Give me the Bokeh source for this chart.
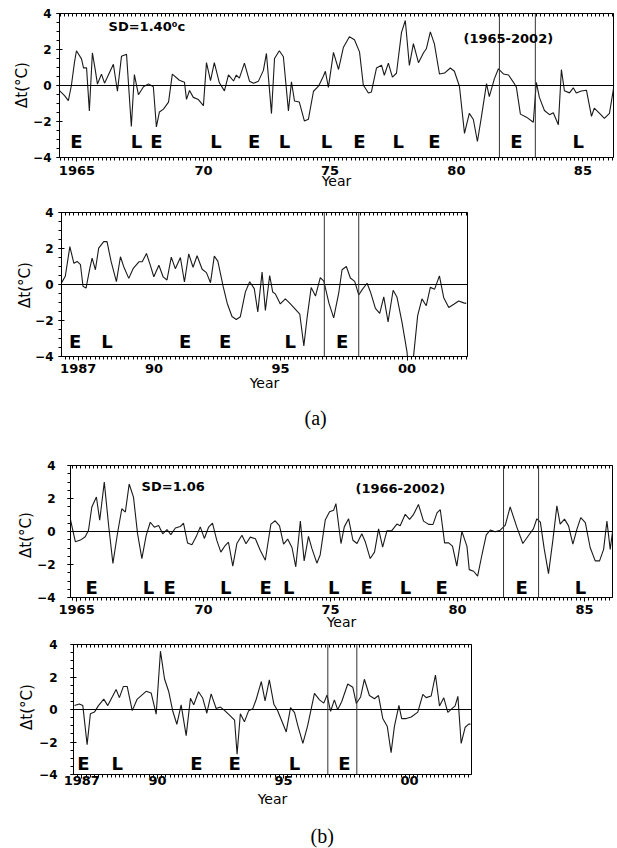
import numpy as np
from bokeh.plotting import figure
from bokeh.models import FixedTicker, LinearAxis, Span, Label, Range1d, ColumnDataSource, Title, Div
from bokeh.layouts import column, row
from bokeh.embed import file_html
from bokeh.resources import INLINE
from bokeh.core.properties import value

# ---------------- data: panel (a) 1965-1986 ----------------
a1_year = [1964.31, 1964.51, 1964.66, 1964.78, 1964.90, 1964.98, 1965.18, 1965.26, 1965.38, 1965.49,
           1965.61, 1965.73, 1965.81, 1965.97, 1966.09, 1966.44, 1966.60, 1966.76, 1966.96, 1967.15,
           1967.27, 1967.43, 1967.63, 1967.83, 1968.02, 1968.14, 1968.26, 1968.42, 1968.62, 1968.77,
           1969.05, 1969.25, 1969.33, 1969.45, 1969.60, 1969.80, 1970.00, 1970.12, 1970.28, 1970.43,
           1970.63, 1970.83, 1970.99, 1971.19, 1971.30, 1971.42, 1971.62, 1971.82, 1971.98, 1972.17,
           1972.37, 1972.49, 1972.69, 1972.81, 1973.00, 1973.16, 1973.36, 1973.48, 1973.60, 1973.79,
           1973.99, 1974.15, 1974.35, 1974.55, 1974.74, 1974.82, 1974.94, 1975.14, 1975.34, 1975.53,
           1975.77, 1975.97, 1976.17, 1976.32, 1976.52, 1976.64, 1976.84, 1977.04, 1977.15, 1977.31,
           1977.47, 1977.63, 1977.83, 1977.98, 1978.14, 1978.30, 1978.50, 1978.70, 1978.81, 1978.97,
           1979.13, 1979.33, 1979.53, 1979.76, 1979.92, 1980.12, 1980.32, 1980.51, 1980.67, 1980.83,
           1980.99, 1981.19, 1981.30, 1981.50, 1981.66, 1981.86, 1982.06, 1982.25, 1982.37, 1982.53,
           1982.77, 1983.04, 1983.16, 1983.28, 1983.48, 1983.68, 1983.83, 1984.03, 1984.15, 1984.27,
           1984.47, 1984.62, 1984.74, 1984.94, 1985.14, 1985.34, 1985.45, 1985.65, 1985.85, 1986.05,
           1986.21]
a1_dt = [-0.28, -0.56, -0.84, 0.00, 1.27, 1.93, 1.48, 0.98, 0.98, -1.41,
         1.81, 0.81, 0.08, 0.63, 0.13, 1.18, -0.32, 1.62, 1.73, -2.28,
         0.61, -0.51, -0.07, 0.09, -0.07, -2.30, -1.47, -1.31, -0.92, 0.63,
         0.29, 0.18, -0.77, -0.28, -0.66, -0.78, -1.12, 1.27, 0.27, 1.27,
         0.15, -0.30, 0.59, 0.25, 0.58, 0.41, 1.24, 0.24, 0.12, 0.23,
         0.84, 1.78, -1.56, 1.50, 1.93, 1.60, -1.41, 0.20, -0.86, -0.92,
         -1.97, -1.87, -0.32, -0.04, 0.51, 0.79, -0.10, 1.84, 0.89, 2.11,
         2.71, 2.54, 1.87, 0.03, -0.42, -0.36, 0.97, 1.13, 0.57, 1.24,
         0.46, 0.68, 2.95, 3.61, 1.11, 2.33, 1.27, 1.82, 2.04, 2.98,
         2.31, 0.64, 0.69, 0.97, 0.79, -0.04, -2.66, -1.55, -1.89, -3.11,
         -1.73, 0.10, -0.62, 0.37, 0.93, 0.64, 0.58, 0.19, -0.09, -1.59,
         -1.76, -2.04, 0.17, -0.66, -1.39, -1.62, -1.51, -2.18, 0.88, -0.29,
         -0.41, -0.13, -0.42, -0.31, -0.26, -1.71, -1.26, -1.54, -1.83, -1.55,
         -0.17]

# ---------------- data: panel (a) 1987-2002 ----------------
a2_year = [1986.34, 1986.49, 1986.67, 1986.83, 1986.96, 1987.09, 1987.19, 1987.31, 1987.46, 1987.55,
           1987.68, 1987.81, 1988.01, 1988.14, 1988.30, 1988.51, 1988.67, 1988.80, 1989.00, 1989.17,
           1989.40, 1989.53, 1989.70, 1989.85, 1989.99, 1990.19, 1990.36, 1990.51, 1990.68, 1990.84,
           1991.04, 1991.20, 1991.37, 1991.54, 1991.70, 1991.90, 1992.07, 1992.23, 1992.38, 1992.52,
           1992.73, 1992.89, 1993.08, 1993.25, 1993.41, 1993.61, 1993.78, 1993.96, 1994.10, 1994.27,
           1994.40, 1994.57, 1994.69, 1994.79, 1994.99, 1995.19, 1995.39, 1995.58, 1995.76, 1995.92,
           1996.05, 1996.21, 1996.38, 1996.57, 1996.71, 1996.91, 1997.10, 1997.30, 1997.43, 1997.60,
           1997.76, 1997.93, 1998.09, 1998.22, 1998.42, 1998.55, 1998.75, 1998.92, 1999.08, 1999.25,
           1999.45, 1999.60, 1999.80, 2000.00, 2000.13, 2000.26, 2000.42, 2000.59, 2000.76, 2000.92,
           2001.09, 2001.28, 2001.45, 2001.65, 2001.85, 2002.04, 2002.24, 2002.34]
a2_dt = [0.09, 0.46, 2.10, 1.18, 1.28, 1.10, -0.10, -0.20, 0.90, 1.46,
         0.82, 2.02, 2.38, 2.38, 1.28, 0.16, 1.54, 0.99, 0.34, 0.88,
         1.26, 1.26, 1.72, 1.08, 0.43, 1.07, 0.42, 0.25, 1.52, 0.88,
         1.50, 0.14, 1.70, 0.96, 1.60, 0.85, 0.66, 0.10, 1.58, 1.30,
         -0.11, -1.04, -1.78, -1.94, -1.79, -0.41, 0.15, -0.23, -1.52, 0.69,
         -1.44, 0.50, -0.42, -0.52, -1.08, -0.80, -1.08, -1.37, -1.65, -3.41,
         -1.83, -0.17, -0.64, 0.38, 0.19, -1.02, -1.85, -0.47, 0.82, 1.00,
         0.36, 0.17, -0.58, -0.30, 0.07, -0.40, -1.33, -1.61, -0.69, -2.08,
         -0.32, -0.69, -2.09, -3.76, -5.98, -3.94, -1.73, -0.80, -1.18, -0.16,
         -0.26, 0.48, -0.73, -1.28, -1.10, -0.92, -1.02, -1.05]

# ---------------- data: panel (b) 1965-1986 ----------------
b1_year = [1964.75, 1964.95, 1965.15, 1965.34, 1965.47, 1965.60, 1965.78, 1965.91, 1966.09, 1966.26,
           1966.43, 1966.61, 1966.78, 1966.92, 1967.07, 1967.24, 1967.40, 1967.57, 1967.74, 1967.90,
           1968.06, 1968.23, 1968.39, 1968.56, 1968.71, 1968.89, 1969.08, 1969.21, 1969.37, 1969.54,
           1969.71, 1969.87, 1970.03, 1970.20, 1970.35, 1970.52, 1970.68, 1970.85, 1970.98, 1971.15,
           1971.31, 1971.51, 1971.67, 1971.84, 1972.04, 1972.23, 1972.43, 1972.65, 1972.82, 1972.99,
           1973.15, 1973.31, 1973.48, 1973.63, 1973.81, 1973.96, 1974.13, 1974.26, 1974.46, 1974.59,
           1974.79, 1974.96, 1975.12, 1975.21, 1975.41, 1975.54, 1975.71, 1975.88, 1976.04, 1976.23,
           1976.37, 1976.56, 1976.73, 1976.89, 1977.05, 1977.22, 1977.41, 1977.61, 1977.74, 1977.94,
           1978.11, 1978.27, 1978.46, 1978.66, 1978.86, 1979.03, 1979.19, 1979.32, 1979.49, 1979.65,
           1979.80, 1979.97, 1980.17, 1980.37, 1980.46, 1980.63, 1980.79, 1980.96, 1981.13, 1981.29,
           1981.48, 1981.68, 1981.88, 1982.07, 1982.33, 1982.57, 1982.80, 1982.99, 1983.12, 1983.26,
           1983.41, 1983.58, 1983.75, 1983.91, 1984.04, 1984.21, 1984.37, 1984.54, 1984.70, 1984.85,
           1985.03, 1985.22, 1985.42, 1985.59, 1985.75, 1985.88, 1986.01, 1986.14]
b1_dt = [0.78, -0.62, -0.52, -0.32, 0.08, 1.49, 2.09, 0.68, 2.99, 0.38,
         -1.93, -0.12, 1.38, 1.18, 2.88, 2.08, -0.13, -1.64, -0.24, 0.56,
         0.26, 0.36, -0.14, 0.12, -0.19, 0.21, 0.30, 0.50, -0.70, -0.81,
         -0.31, 0.28, -0.42, 0.27, 0.51, -0.54, -1.25, -0.85, -0.65, -2.10,
         -0.73, -0.23, -0.74, -0.34, -0.44, -1.14, -1.74, 0.45, 0.65, 0.34,
         -0.76, -0.46, -0.97, -2.14, 0.63, -1.78, -0.30, -1.01, -1.92, -1.42,
         0.69, 1.19, 1.29, 1.69, -0.73, 0.28, 0.77, -0.53, -0.73, -0.14,
         -0.64, -1.64, -1.25, 0.16, -0.95, 0.05, 0.05, 0.45, 0.35, 1.04,
         0.74, 1.04, 1.64, 0.63, 0.43, 0.42, 1.13, 1.32, -0.69, -0.69,
         -0.89, -2.10, 0.01, -0.90, -2.31, -2.41, -2.71, -1.41, -0.21, 0.09,
         -0.01, 0.08, 0.38, 1.49, 0.28, -0.73, -0.23, 0.17, 0.77, 0.57,
         -1.04, -2.55, -0.55, 1.55, 0.45, 0.75, 0.34, -0.76, 0.14, 0.84,
         0.54, -0.97, -1.78, -1.78, -1.08, 0.63, -1.08, 0.42]

# ---------------- data: panel (b) 1987-2002 ----------------
b2_year = [1986.71, 1986.90, 1987.04, 1987.21, 1987.34, 1987.50, 1987.66, 1987.87, 1988.03, 1988.19,
           1988.36, 1988.49, 1988.65, 1988.80, 1989.00, 1989.19, 1989.55, 1989.75, 1989.95, 1990.12,
           1990.28, 1990.45, 1990.61, 1990.77, 1990.94, 1991.14, 1991.31, 1991.44, 1991.63, 1991.80,
           1991.96, 1992.13, 1992.33, 1992.50, 1992.66, 1992.86, 1993.06, 1993.16, 1993.29, 1993.45,
           1993.62, 1993.78, 1993.92, 1994.12, 1994.27, 1994.44, 1994.62, 1994.77, 1995.11, 1995.28,
           1995.44, 1995.57, 1995.77, 1995.96, 1996.23, 1996.43, 1996.60, 1996.73, 1996.87, 1997.02,
           1997.15, 1997.31, 1997.55, 1997.75, 1997.89, 1998.06, 1998.21, 1998.41, 1998.61, 1998.77,
           1998.94, 1999.12, 1999.27, 1999.40, 1999.58, 1999.69, 1999.87, 2000.07, 2000.33, 2000.53,
           2000.66, 2000.86, 2001.03, 2001.19, 2001.36, 2001.52, 2001.65, 2001.81, 2001.92, 2002.05,
           2002.21, 2002.35, 2002.42]
b2_dt = [0.24, 0.34, 0.24, -2.16, -0.26, -0.16, 0.24, 0.64, 0.24, 0.73,
         1.23, 0.73, 1.42, 1.42, -0.07, 0.62, 1.12, 1.02, -0.29, 3.59,
         1.89, 1.09, -0.11, -0.91, 0.29, -1.61, 0.69, 0.29, 1.09, 0.69,
         -0.23, 0.96, 0.06, 0.15, -0.05, -0.35, -0.65, -2.75, -0.26, -0.76,
         -0.07, 0.04, 0.63, 1.72, 0.53, 1.82, 0.32, -0.08, -1.38, 0.11,
         -0.19, -0.99, -2.09, -0.99, 0.99, 0.59, 0.39, 0.89, -0.11, 0.59,
         -0.01, 0.48, 1.57, 1.37, 0.37, 0.77, 1.86, 0.86, 0.66, 0.86,
         -0.55, -1.05, -2.65, -1.05, 0.25, -0.56, -0.56, -0.46, -0.16, 0.93,
         0.73, 0.83, 2.12, 0.22, 0.72, -0.18, 0.01, 0.22, 0.81, -2.09,
         -1.09, -0.90, -0.90]

# ---------------- ENSO event markers ----------------
a1_enso_year = [1964.98, 1967.35, 1968.14, 1970.50, 1972.00, 1973.20, 1974.86, 1976.17, 1977.70, 1979.13, 1982.37, 1984.82]
a1_enso_type = ["E", "L", "E", "L", "E", "L", "L", "E", "L", "E", "E", "L"]
a2_enso_year = [1986.88, 1988.14, 1991.23, 1992.81, 1995.38, 1997.43]
a2_enso_type = ["E", "L", "E", "E", "L", "E"]
b1_enso_year = [1965.59, 1967.83, 1968.66, 1970.87, 1972.44, 1973.35, 1975.12, 1976.42, 1977.95, 1979.37, 1982.52, 1984.84]
b1_enso_type = ["E", "L", "E", "L", "E", "L", "L", "E", "L", "E", "E", "L"]
b2_enso_year = [1987.06, 1988.41, 1991.55, 1993.06, 1995.44, 1997.42]
b2_enso_type = ["E", "L", "E", "E", "L", "E"]

# strong El Nino windows (vertical lines)
a1_event_lines = [1981.70, 1983.12]
a2_event_lines = [1996.73, 1998.09]
b1_event_lines = [1981.81, 1983.19]
b2_event_lines = [1996.76, 1997.91]

top_ticks = [1965, 1970, 1975, 1980, 1985]
top_labels = ["1965", "70", "75", "80", "85"]
bot_ticks = [1987, 1990, 1995, 2000]
bot_labels = ["1987", "90", "95", "00"]
y_ticks = [-4, -2, 0, 2, 4]

FONT = "DejaVu Sans"


def panel(year, dt, xr, frame, borders, ticks, labels, event_lines, enso_year, enso_type, enso_y,
          ylab_standoff, xlab_standoff, xaxis_standoff):
    fw, fh = frame
    bl, br, bt, bb = borders
    p = figure(frame_width=fw, frame_height=fh,
               min_border_left=bl, min_border_right=br, min_border_top=bt, min_border_bottom=bb,
               x_range=Range1d(*xr), y_range=Range1d(-4, 4),
               output_backend="svg", toolbar_location=None,
               x_axis_label="Year")
    p.xgrid.visible = False
    p.ygrid.visible = False
    p.outline_line_color = "black"
    p.outline_line_width = 1
    p.outline_line_alpha = 1
    p.background_fill_color = "white"
    p.border_fill_color = "white"

    minor_x = [float(v) for v in np.arange(np.ceil(xr[0] * 6) / 6, xr[1], 1 / 6)]
    xt = FixedTicker(ticks=ticks, minor_ticks=minor_x)
    yt = FixedTicker(ticks=y_ticks, minor_ticks=[float(v) for v in np.arange(-4, 4.01, 0.5)])

    xa = p.xaxis[0]
    xa.ticker = xt
    xa.major_label_overrides = {t: l for t, l in zip(ticks, labels)}
    xa.major_tick_in = 0
    xa.major_tick_out = 4
    xa.minor_tick_in = 0
    xa.minor_tick_out = 3
    xa.major_label_standoff = xlab_standoff
    xa.axis_label_standoff = xaxis_standoff
    xa.major_label_text_font = FONT
    xa.major_label_text_font_style = "bold"
    xa.major_label_text_font_size = "13px"
    xa.major_label_text_color = "black"
    xa.axis_label_text_font = FONT
    xa.axis_label_text_font_style = "normal"
    xa.axis_label_text_font_size = "14px"
    xa.axis_label_text_color = "black"

    ya = p.yaxis[0]
    ya.ticker = yt
    ya.major_tick_in = 3
    ya.major_tick_out = 3
    ya.minor_tick_in = 0
    ya.minor_tick_out = 3
    ya.major_label_standoff = ylab_standoff
    ya.major_label_text_font = FONT
    ya.major_label_text_font_style = "bold"
    ya.major_label_text_font_size = "12px"
    ya.major_label_text_color = "black"

    top = LinearAxis(ticker=FixedTicker(ticks=[], minor_ticks=minor_x),
                     major_tick_in=0, major_tick_out=0, minor_tick_in=3, minor_tick_out=0,
                     major_label_standoff=0, axis_line_color="black")
    p.add_layout(top, "above")

    p.add_layout(Span(location=0, dimension="width", line_color="black", line_width=1))
    for ev in event_lines:
        p.add_layout(Span(location=ev, dimension="height", line_color="#333333", line_width=1))

    p.line(year, dt, line_color="#1a1a1a", line_width=1.1)

    src = ColumnDataSource(dict(x=enso_year, y=[enso_y] * len(enso_year), t=enso_type))
    p.text(x="x", y="y", text="t", source=src, text_font=value(FONT), text_font_style="bold",
           text_font_size="18px", text_align="center", text_baseline="middle", text_color="black")
    return p


def note(p, x, y, txt, size="13px"):
    p.add_layout(Label(x=x, y=y, text=txt, text_font=FONT, text_font_style="bold",
                       text_font_size=size, text_align="left", text_baseline="middle",
                       text_color="black"))


def caption(p, txt, offset, standoff):
    p.add_layout(Title(text=txt, align="left", offset=offset, standoff=standoff,
                       text_font="Liberation Serif", text_font_style="normal",
                       text_font_size="20px", text_color="black"), "below")


def ylabel(width, height, cx, cy):
    html = ('<div style="position:relative;left:%dpx;top:%dpx;width:18px;height:100px;'
            'writing-mode:vertical-rl;text-orientation:sideways;transform:rotate(180deg);'
            'text-align:center;line-height:18px;white-space:nowrap;margin:0;padding:0;'
            "font-family:'DejaVu Sans';font-size:15px;color:black;\">"
            '\u0394t(\u00b0C)</div>') % (cx - 9, cy - 50)
    return Div(text=html, width=width, height=height, margin=0,
               styles={"overflow": "visible", "padding": "0", "margin": "0"})


pa1 = panel(a1_year, a1_dt, (1964.31, 1986.21), (554, 144), (23, 4, 13, 43),
            top_ticks, top_labels, a1_event_lines, a1_enso_year, a1_enso_type, -3.1, 5, 4, -5)
note(pa1, 1966.25, 3.28, "SD=1.40\u2070c")
note(pa1, 1980.28, 2.6, "(1965-2002)")

pa2 = panel(a2_year, a2_dt, (1986.34, 2002.39), (406, 144), (22, 4, 12, 89),
            bot_ticks, bot_labels, a2_event_lines, a2_enso_year, a2_enso_type, -3.15, 5, 3, -1)
caption(pa2, "(a)", 243, 22)

pb1 = panel(b1_year, b1_dt, (1964.76, 1986.10), (542, 132), (33, 4, 20, 40),
            top_ticks, top_labels, b1_event_lines, b1_enso_year, b1_enso_type, -3.4, 12, 3, -3)
note(pb1, 1967.56, 2.71, "SD=1.06")
note(pb1, 1975.98, 2.59, "(1966-2002)")

pb2 = panel(b2_year, b2_dt, (1986.67, 2002.46), (398, 130), (33, 4, 7, 70),
            bot_ticks, bot_labels, b2_event_lines, b2_enso_year, b2_enso_type, -3.3, 13, -3, 3)
caption(pb2, "(b)", 237, 26)

layout = column(
    row(ylabel(30, 200, 22, 85), pa1),
    row(ylabel(32, 245, 25, 85), pa2),
    row(ylabel(34, 192, 26, 90), pb1),
    row(ylabel(36, 207, 27, 70), pb2),
    spacing=0,
)
open("out.html", "w").write(file_html(layout, INLINE))
